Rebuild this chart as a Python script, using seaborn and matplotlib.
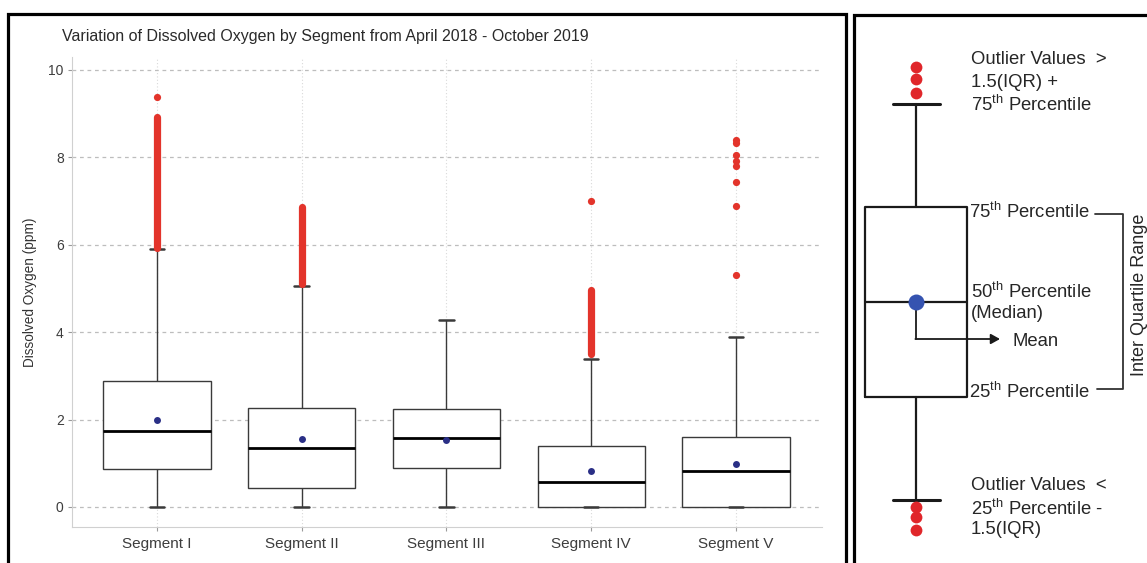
import matplotlib
matplotlib.use("Agg")
import matplotlib.pyplot as plt
import numpy as np
import pandas as pd
import seaborn as sns
from matplotlib.patches import Rectangle

# ---- Dissolved oxygen summary per segment (ppm) ----
segments = ["Segment I", "Segment II", "Segment III", "Segment IV", "Segment V"]
whisker_low = [0.0, 0.0, 0.0, 0.0, 0.0]
q1 = [0.87, 0.43, 0.89, 0.0, 0.0]
median = [1.74, 1.35, 1.58, 0.57, 0.82]
q3 = [2.88, 2.27, 2.24, 1.40, 1.60]
whisker_high = [5.90, 5.05, 4.27, 3.39, 3.90]
means = [2.00, 1.55, 1.53, 0.82, 0.98]

# closely packed runs of outliers (lowest, highest); None where a segment has none
outlier_run_low = [5.93, 5.10, None, 3.50, None]
outlier_run_high = [8.93, 6.87, None, 4.97, None]

# isolated outliers
outlier_segment = ["Segment I", "Segment IV", "Segment V", "Segment V", "Segment V",
                   "Segment V", "Segment V", "Segment V", "Segment V", "Segment V"]
outlier_value = [9.39, 7.01, 5.31, 6.89, 7.44, 7.80, 7.92, 8.05, 8.33, 8.40]

y_ticks = [0, 2, 4, 6, 8, 10]

RED = "#e3342b"
NAVY = "#2a2f86"

sns.set_theme(style="white")
plt.rcParams["font.family"] = ["Liberation Sans", "DejaVu Sans"]
plt.rcParams["mathtext.fontset"] = "custom"
plt.rcParams["mathtext.rm"] = "Liberation Sans"

W, H = 1147, 563
fig = plt.figure(figsize=(W / 100, H / 100), dpi=100)
fig.patch.set_facecolor("white")


def fx(px):
    return px / W


def fy(py):
    return 1 - py / H


# ---------------- left panel: box plots ----------------
ax = fig.add_axes([fx(72), fy(527), fx(822) - fx(72), fy(57) - fy(527)])

# each segment's five-number summary as a long table
rows = []
for seg, lo, a, m, b, hi in zip(segments, whisker_low, q1, median, q3, whisker_high):
    for v in (lo, a, m, b, hi):
        rows.append({"segment": seg, "do": v})
df = pd.DataFrame(rows)

sns.boxplot(
    data=df, x="segment", y="do", order=segments, ax=ax,
    width=0.74, whis=(0, 100), showfliers=False,
    color="white", linecolor="#3a3a3a", linewidth=1.0,
    medianprops=dict(color="black", linewidth=2.0),
    capprops=dict(color="#3a3a3a", linewidth=1.8),
    capwidths=0.1,
)

for i, (lo, hi) in enumerate(zip(outlier_run_low, outlier_run_high)):
    if lo is None:
        continue
    ax.plot([i, i], [lo, hi], color=RED, lw=5.2, solid_capstyle="round", zorder=4)

sns.stripplot(x=outlier_segment, y=outlier_value, order=segments, jitter=False,
              color=RED, size=5.2, linewidth=0, ax=ax, zorder=4)
sns.stripplot(x=segments, y=means, order=segments, jitter=False,
              color=NAVY, size=5.0, linewidth=0, ax=ax, zorder=5)

ax.set_xlim(-0.587, 4.594)
ax.set_ylim(-0.458, 10.297)
ax.set_yticks(y_ticks)
ax.set_yticklabels([str(t) for t in y_ticks])
ax.set_xlabel("")
ax.set_ylabel("Dissolved Oxygen (ppm)", fontsize=9.8, color="#333333", labelpad=8)

ax.set_axisbelow(True)
ax.yaxis.grid(True, linestyle=(0, (3, 3)), color="#bdbdbd", linewidth=0.9)
ax.xaxis.grid(True, linestyle=(0, (1, 2)), color="#d9d9d9", linewidth=0.8)
for side in ("top", "right"):
    ax.spines[side].set_visible(False)
for side in ("left", "bottom"):
    ax.spines[side].set_color("#d0d0d0")
    ax.spines[side].set_linewidth(0.8)
ax.tick_params(axis="both", which="both", length=3, width=0.8, color="#9a9a9a",
               labelcolor="#3d3d3d", labelsize=10, left=True, bottom=True)
ax.tick_params(axis="x", labelsize=11, pad=4)
ax.tick_params(axis="y", pad=3)

fig.text(fx(62), fy(37), "Variation of Dissolved Oxygen by Segment from April 2018 - October 2019",
         fontsize=11.5, color="#2a2a2a", ha="left", va="center")

# ---------------- right panel: how to read a box ----------------
ax2 = fig.add_axes([fx(853), 0, fx(1147) - fx(853), fy(14)])
ax2.set_axis_off()
ax2.set_xlim(0, 294)


def sy(py):
    # schematic units: median at 0, quartiles at +/-1
    return (302 - py) / 95.0


ax2.set_ylim(sy(563), sy(14))

key_stats = [dict(med=0.0, q1=-1.0, q3=1.0, whislo=-2.08, whishi=2.08, fliers=[])]
ax2.bxp(key_stats, positions=[63], widths=[102], capwidths=[47], showfliers=False,
        manage_ticks=False,
        boxprops=dict(color="#1a1a1a", linewidth=1.6),
        whiskerprops=dict(color="#1a1a1a", linewidth=1.6),
        capprops=dict(color="#1a1a1a", linewidth=2.2),
        medianprops=dict(color="#1a1a1a", linewidth=1.6))

key_fliers = [2.20, 2.347, 2.474, -2.158, -2.263, -2.40]
ax2.plot([63] * len(key_fliers), key_fliers, "o", color="#e0262a", markersize=8.5,
         markeredgewidth=0, zorder=4)

# mean marker and its pointer
ax2.plot([63, 63], [0, sy(339)], color="#1a1a1a", lw=1.3, zorder=3)
ax2.annotate("", xy=(147, sy(339)), xytext=(62.4, sy(339)),
             arrowprops=dict(arrowstyle="-|>,head_length=0.45,head_width=0.25",
                             color="#1a1a1a", lw=1.3, shrinkA=0, shrinkB=0))
ax2.plot([63], [0], "o", color="#3553b0", markersize=11.5, markeredgewidth=0, zorder=5)

# inter-quartile bracket
ax2.plot([242, 270, 270, 244], [sy(214), sy(214), sy(389), sy(389)],
         color="#333333", lw=1.3)

txt = dict(fontsize=13.3, color="#262626", ha="left", va="center_baseline")
ax2.text(118, sy(58), "Outlier Values  >", **txt)
ax2.text(118, sy(81), "1.5(IQR) +", **txt)
ax2.text(118, sy(103), r"75$^{\rm th}$ Percentile", **txt)
ax2.text(116, sy(210), r"75$^{\rm th}$ Percentile", **txt)
ax2.text(118, sy(290), r"50$^{\rm th}$ Percentile", **txt)
ax2.text(118, sy(312), "(Median)", **txt)
ax2.text(159, sy(340), "Mean", **txt)
ax2.text(116, sy(390), r"25$^{\rm th}$ Percentile", **txt)
ax2.text(118, sy(483), "Outlier Values  <", **txt)
ax2.text(118, sy(507), r"25$^{\rm th}$ Percentile -", **txt)
ax2.text(118, sy(528), "1.5(IQR)", **txt)
ax2.text(287, sy(295), "Inter Quartile Range", fontsize=13.0, color="#262626",
         rotation=90, ha="center", va="center")

# panel frames
fig.add_artist(Rectangle((fx(8), -0.05), fx(846) - fx(8), fy(14) + 0.05,
                         transform=fig.transFigure, fill=False, lw=2.3,
                         edgecolor="black", zorder=10))
fig.add_artist(Rectangle((fx(854), -0.05), 0.4, fy(15) + 0.05,
                         transform=fig.transFigure, fill=False, lw=2.3,
                         edgecolor="black", zorder=10))

fig.savefig("out.png", dpi=100, facecolor="white")
